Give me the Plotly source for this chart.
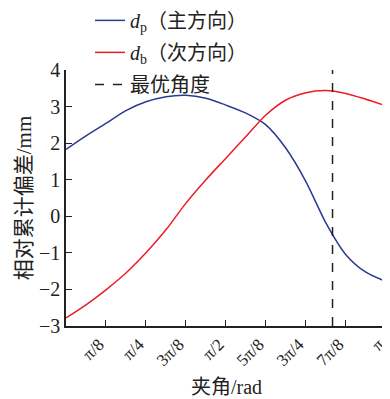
import numpy as np
import plotly.graph_objects as go

# sample positions in units of pi/8
x_eighths = [0, 0.5, 1, 1.5, 2, 2.5, 3, 3.5, 4, 4.5, 5, 5.5, 6, 6.5, 7, 7.5, 8]
dp_values = [1.83, 2.2, 2.54, 2.89, 3.13, 3.27, 3.31, 3.23, 3.04, 2.82, 2.5, 1.86, 0.95, -0.18, -1.05, -1.53, -1.78]
db_values = [-2.78, -2.42, -2.01, -1.55, -1.0, -0.37, 0.36, 1.0, 1.59, 2.18, 2.77, 3.18, 3.38, 3.44, 3.36, 3.2, 3.02]
optimal_angle = 5 * np.pi / 6
y_range = [-3, 4]

tick_eighths = [1, 2, 3, 4, 5, 6, 7, 8]
tick_labels = ["π/8", "π/4", "3π/8", "π/2", "5π/8", "3π/4", "7π/8", "π"]

x = [v * np.pi / 8 for v in x_eighths]
tickvals = [v * np.pi / 8 for v in tick_eighths]

FONT = "Liberation Serif, Times New Roman, Noto Sans CJK SC, serif"

fig = go.Figure()
fig.add_trace(go.Scatter(x=x, y=dp_values, mode="lines", name="<i>d</i><sub>p</sub>（主方向）",
                         legendgroup="a",
                         line=dict(color="#2b3990", width=1.5, shape="spline", smoothing=0.8)))
fig.add_trace(go.Scatter(x=x, y=db_values, mode="lines", name="<i>d</i><sub>b</sub>（次方向）",
                         legendgroup="b",
                         line=dict(color="#ed1c24", width=1.5, shape="spline", smoothing=0.8)))
fig.add_trace(go.Scatter(x=[optimal_angle, optimal_angle], y=y_range, mode="lines", name="最优角度",
                         legendgroup="c",
                         line=dict(color="#222222", width=1.5, dash="dash")))

# page body adds an 8px offset; margins compensate
fig.update_layout(
    width=382, height=391,
    margin=dict(l=58, r=4, t=62, b=73, autoexpand=False),
    paper_bgcolor="white", plot_bgcolor="white",
    font=dict(family=FONT, size=18, color="#222222"),
    showlegend=True,
    legend=dict(x=0.075, y=1.27, xref="paper", yref="paper", xanchor="left", yanchor="top",
                bgcolor="rgba(0,0,0,0)", traceorder="grouped",
                font=dict(size=20, family=FONT), tracegroupgap=3, itemwidth=30),
    xaxis=dict(range=[0, np.pi * 1.0005], tickvals=tickvals, ticktext=tick_labels, tickangle=-45,
               ticks="inside", ticklen=6, tickwidth=1.2, tickcolor="#222222",
               showline=True, linecolor="#222222", linewidth=1.5, showgrid=False, zeroline=False,
               tickfont=dict(size=17), automargin=False, ticklabeloverflow="allow",
               ticklabelshift=-7),
    yaxis=dict(range=y_range, tickvals=[-3, -2, -1, 0, 1, 2, 3, 4],
               ticks="inside", ticklen=6, tickwidth=1.2, tickcolor="#222222",
               showline=True, linecolor="#222222", linewidth=1.5, showgrid=False, zeroline=False,
               tickfont=dict(size=20), automargin=False,
               title=dict(text="相对累计偏差/mm", font=dict(size=21), standoff=2)),
    annotations=[dict(text="夹角/rad", xref="paper", yref="paper", x=0.5, y=-0.239,
                      xanchor="center", yanchor="middle", showarrow=False,
                      font=dict(size=20, family=FONT))],
)

fig.write_html("out.html")
